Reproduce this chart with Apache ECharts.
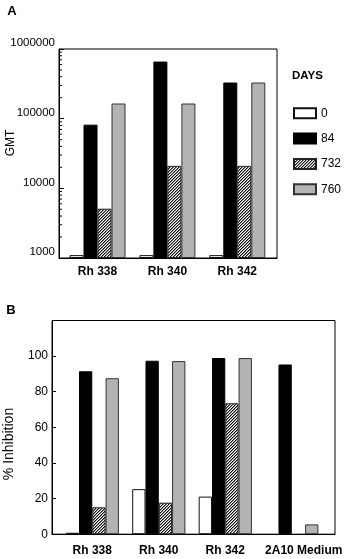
<!DOCTYPE html>
<html><head><meta charset="utf-8">
<script src="https://cdn.jsdelivr.net/npm/echarts@6/dist/echarts.min.js"></script>
<style>html,body{margin:0;padding:0;background:#fff}#c{width:347px;height:559px}</style>
</head><body><div id="c"></div>
<script>
// ---- data ----
const seriesNames = ['0', '84', '732', '760'];
const catsA = ['Rh 338', 'Rh 340', 'Rh 342'];
const gmtDay0 = [1100, 1100, 1100];
const gmtDay84 = [82000, 660000, 330000];
const gmtDay732 = [5100, 21000, 21000];
const gmtDay760 = [165000, 165000, 330000];
const yMinorTicksA = [2000, 3000, 4000, 5000, 6000, 7000, 8000, 9000,
  20000, 30000, 40000, 50000, 60000, 70000, 80000, 90000,
  200000, 300000, 400000, 500000, 600000, 700000, 800000, 900000];

const catsB = ['Rh 338', 'Rh 340', 'Rh 342', '2A10 Medium'];
const inhDay0 = [0.8, 25.3, 21.1, null];
const inhDay84 = [91.5, 97.4, 98.9, 95.3];
const inhDay732 = [15.1, 17.7, 73.5, null];
const inhDay760 = [87.6, 97.2, 98.9, 5.5];

// ---- styles ----
const FONT = 'Liberation Sans, Arial, Helvetica, sans-serif';
function hatch() {
  const c = document.createElement('canvas');
  c.width = 3; c.height = 3;
  const g = c.getContext('2d');
  g.fillStyle = '#fff'; g.fillRect(0, 0, 3, 3);
  for (let x = 0; x < 3; x++) for (let y = 0; y < 3; y++) {
    const k = (x + y) % 3;
    if (k === 0) { g.fillStyle = '#111'; g.fillRect(x, y, 1, 1); }
    else if (k === 1) { g.fillStyle = '#8a8a8a'; g.fillRect(x, y, 1, 1); }
  }
  return c;
}
const fills = [
  { color: '#ffffff', borderColor: '#111', borderWidth: 1 },
  { color: '#000000', borderColor: '#000', borderWidth: 1 },
  { color: { image: hatch(), repeat: 'repeat' }, borderColor: '#222', borderWidth: 1 },
  { color: '#b3b3b3', borderColor: '#333', borderWidth: 1 }
];

const dataA = [gmtDay0, gmtDay84, gmtDay732, gmtDay760];
const dataB = [inhDay0, inhDay84, inhDay732, inhDay760];

const series = [];
dataA.forEach((arr, s) => {
  series.push({
    type: 'bar', name: seriesNames[s], xAxisIndex: 0, yAxisIndex: 0,
    barWidth: 14, barGap: '0%', clip: true,
    itemStyle: fills[s],
    data: arr.map((v, i) => [i, v])
  });
});
dataB.forEach((arr, s) => {
  series.push({
    type: 'bar', name: seriesNames[s], xAxisIndex: 1, yAxisIndex: 1,
    barWidth: 13.3, barGap: '0%', clip: true,
    itemStyle: fills[s],
    data: arr.map((v, i) => [i, v])
  });
});
// minor log ticks for panel A, placed through the log axis scale
series.push({
  type: 'custom', xAxisIndex: 0, yAxisIndex: 0, silent: true, clip: false,
  data: yMinorTicksA.map(v => [v]),
  encode: { y: 0 },
  renderItem: (params, api) => {
    const p = api.coord([-0.551, api.value(0)]);
    return {
      type: 'line',
      shape: { x1: p[0], y1: p[1], x2: p[0] + 3, y2: p[1] },
      style: { stroke: '#000', lineWidth: 1 }
    };
  },
  tooltip: { show: false }
});

const axisLineBlack = { show: true, onZero: false, lineStyle: { color: '#000', width: 1 } };

const option = {
  animation: false,
  backgroundColor: '#fff',
  grid: [
    { left: 59, top: 49, width: 218, height: 209, show: true, borderColor: '#000', borderWidth: 1, containLabel: false },
    { left: 52, top: 320.5, width: 283, height: 213.7, show: true, borderColor: '#000', borderWidth: 1, containLabel: false }
  ],
  xAxis: [
    {
      type: 'value', gridIndex: 0, min: -0.551, max: 2.568,
      axisLine: axisLineBlack, axisTick: { show: false }, splitLine: { show: false },
      axisLabel: {
        customValues: [0, 1, 2], margin: 8,
        formatter: v => catsA[Math.round(v)] || '',
        color: '#000', fontFamily: FONT, fontSize: 12, fontWeight: 'bold'
      }
    },
    {
      type: 'value', gridIndex: 1, min: -0.606, max: 3.65,
      axisLine: axisLineBlack, axisTick: { show: false }, splitLine: { show: false },
      axisLabel: {
        customValues: [0, 1, 2, 3], margin: 10,
        formatter: v => {
          const i = Math.round(v);
          return i === 3 ? '{s|' + catsB[i] + '}' : (catsB[i] || '');
        },
        rich: { s: { padding: [0, 0, 0, 24], fontFamily: FONT, fontSize: 12, fontWeight: 'bold', color: '#000' } },
        color: '#000', fontFamily: FONT, fontSize: 12, fontWeight: 'bold'
      }
    }
  ],
  yAxis: [
    {
      type: 'log', logBase: 10, gridIndex: 0, min: 1000, max: 1000000, startValue: 1000,
      axisLine: axisLineBlack,
      axisTick: { show: true, inside: true, length: 5, lineStyle: { color: '#000' } },
      splitLine: { show: false },
      axisLabel: {
        margin: 4, verticalAlign: 'bottom', color: '#000', fontFamily: FONT, fontSize: 11.5,
        formatter: v => String(Math.round(v))
      }
    },
    {
      type: 'value', gridIndex: 1, min: 0, max: 120, interval: 20,
      axisLine: axisLineBlack,
      axisTick: { show: true, inside: true, length: 4, lineStyle: { color: '#000' } },
      splitLine: { show: false },
      axisLabel: {
        margin: 4, verticalAlign: 'middle', lineHeight: 12, padding: [0, 0, 7, 0],
        color: '#000', fontFamily: FONT, fontSize: 12,
        formatter: v => (v >= 120 ? '' : String(v))
      }
    }
  ],
  legend: {
    data: seriesNames, orient: 'vertical', left: 288, top: 102.3,
    itemWidth: 22, itemHeight: 10, itemGap: 13.3, icon: 'rect', selectedMode: false,
    textStyle: { color: '#000', fontFamily: FONT, fontSize: 12, lineHeight: 12 }
  },
  graphic: [
    { type: 'text', x: 12, y: 11.7, style: { text: 'A', font: 'bold 13px ' + FONT, fill: '#000', align: 'center', verticalAlign: 'middle' } },
    { type: 'text', x: 11, y: 310, style: { text: 'B', font: 'bold 13px ' + FONT, fill: '#000', align: 'center', verticalAlign: 'middle' } },
    { type: 'text', x: 307.5, y: 75.7, style: { text: 'DAYS', font: 'bold 11.5px ' + FONT, fill: '#000', align: 'center', verticalAlign: 'middle' } },
    { type: 'text', x: 11, y: 143, rotation: Math.PI / 2, style: { text: 'GMT', font: '12px ' + FONT, fill: '#000', align: 'center', verticalAlign: 'middle' } },
    { type: 'text', x: 9.5, y: 444, rotation: Math.PI / 2, style: { text: '% Inhibition', font: '14px ' + FONT, fill: '#000', align: 'center', verticalAlign: 'middle' } }
  ],
  series: series
};
const chart = echarts.init(document.getElementById('c'), null, { renderer: 'canvas' });
chart.setOption(option);
</script>
</body></html>
